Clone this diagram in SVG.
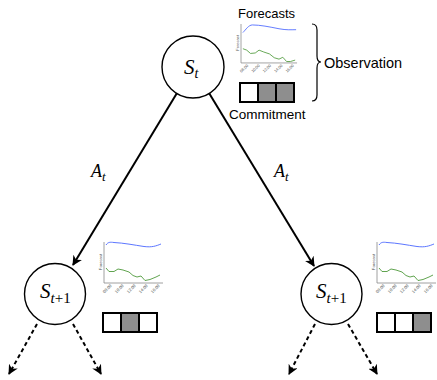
<svg xmlns="http://www.w3.org/2000/svg" width="437" height="380" viewBox="0 0 437 380">
<style>
.node{fill:#fff;stroke:#000;stroke-width:1.4}
.math{font-family:"Liberation Serif",serif;font-style:italic;fill:#000}
.up{font-style:normal}
.lbl{font-family:"Liberation Sans",Arial,sans-serif;fill:#000}
.edge{stroke:#000;stroke-width:2;fill:none}
.dash{stroke:#000;stroke-width:2;fill:none;stroke-dasharray:4 3}
.axis{stroke:#888;stroke-width:0.8;fill:none}
.tick{font-family:"Liberation Sans",Arial,sans-serif;font-size:4.2px;fill:#555}
.blue{stroke:#4a66ff;stroke-width:0.9;fill:none}
.green{stroke:#4f9a3c;stroke-width:0.9;fill:none}
.cell{stroke:#000;stroke-width:2;fill:#fff}
.on{fill:#8e8e8e}
</style>
<defs>
<marker id="ah" viewBox="0 0 10 10" refX="9" refY="5" markerWidth="5" markerHeight="5" orient="auto" markerUnits="strokeWidth">
<path d="M0,0 L10,5 L0,10 L3,5 z" fill="#000"/>
</marker>
<g id="axes">
<path class="axis" d="M0,0 V41 H59"/>
<text class="tick" transform="translate(-2,20) rotate(-90)" text-anchor="middle">Forecast</text>
<text class="tick" transform="translate(8,44) rotate(-45)" text-anchor="end">08:00</text>
<text class="tick" transform="translate(20,44) rotate(-45)" text-anchor="end">10:00</text>
<text class="tick" transform="translate(32,44) rotate(-45)" text-anchor="end">12:00</text>
<text class="tick" transform="translate(44,44) rotate(-45)" text-anchor="end">14:00</text>
<text class="tick" transform="translate(56,44) rotate(-45)" text-anchor="end">16:00</text>
</g>
<g id="lowchart">
<use href="#axes"/>
<path class="blue" d="M2,3 C4,0 6,0 10,0.5 C20,1 30,3 40,4.5 C48,5.5 52,4 57,2"/>
<path class="green" d="M2,26 L5,29.5 L10,29.5 L14,27 L19,28 L25,30 L29,33.5 L33,35 L37,34 L41,38.5 L46,37.5 L52,35 L56,33"/>
</g>
</defs>

<g id="connectors">
<line class="edge" x1="177" y1="93" x2="73" y2="265" marker-end="url(#ah)"/>
<line class="edge" x1="209" y1="93" x2="314" y2="266" marker-end="url(#ah)"/>
<line class="dash" x1="37" y1="324" x2="9" y2="374" marker-end="url(#ah)"/>
<line class="dash" x1="73" y1="324" x2="101" y2="374" marker-end="url(#ah)"/>
<line class="dash" x1="315" y1="324" x2="289" y2="374" marker-end="url(#ah)"/>
<line class="dash" x1="348" y1="324" x2="377" y2="374" marker-end="url(#ah)"/>
<text class="math" x="91" y="177" font-size="18">A<tspan font-size="13" dy="4">t</tspan></text>
<text class="math" x="274" y="177" font-size="18">A<tspan font-size="13" dy="4">t</tspan></text>
</g>

<g id="node-st">
<circle class="node" cx="193" cy="67" r="31"/>
<text class="math" x="184" y="74" font-size="21">S<tspan font-size="14" dy="4">t</tspan></text>
</g>

<g id="node-st1-left">
<circle class="node" cx="55" cy="294" r="30.5"/>
<text class="math" x="40" y="298" font-size="21">S<tspan font-size="15" dy="5">t</tspan><tspan class="up" font-size="15">+1</tspan></text>
</g>

<g id="node-st1-right">
<circle class="node" cx="331.5" cy="294" r="30.5"/>
<text class="math" x="316" y="298" font-size="21">S<tspan font-size="15" dy="5">t</tspan><tspan class="up" font-size="15">+1</tspan></text>
</g>

<g id="observation">
<text class="lbl" x="238" y="18" font-size="13">Forecasts</text>
<g transform="translate(241,24) scale(0.95)">
<use href="#axes"/>
<path class="blue" d="M2,9 C5,6 8,1 12,1 C20,1 30,3 40,5 C48,6.5 52,6 58,6"/>
<path class="green" d="M2,26 L6,27.5 L10,31 L15,30.5 L19,27.5 L24,29.5 L30,31.5 L35,35.5 L40,37 L44,35 L48,39.5 L52,39.5 L57,38"/>
</g>
<rect class="cell" x="240" y="83" width="18" height="19"/>
<rect class="cell on" x="258" y="83" width="18" height="19"/>
<rect class="cell on" x="276" y="83" width="18" height="19"/>
<text class="lbl" x="229" y="119" font-size="13.5">Commitment</text>
<path d="M312,24 Q317,24 317,30 V56 Q317,62 321,62 Q317,62 317,68 V95 Q317,101 312,101" fill="none" stroke="#000" stroke-width="1.2"/>
<text class="lbl" x="324" y="68" font-size="14.5">Observation</text>
</g>

<g id="obs-left">
<use href="#lowchart" transform="translate(104,242)"/>
<rect class="cell" x="103" y="313" width="18" height="19"/>
<rect class="cell on" x="121" y="313" width="18" height="19"/>
<rect class="cell" x="139" y="313" width="18" height="19"/>
</g>

<g id="obs-right">
<use href="#lowchart" transform="translate(377,242)"/>
<rect class="cell" x="377" y="313" width="18" height="19"/>
<rect class="cell" x="395" y="313" width="18" height="19"/>
<rect class="cell on" x="413" y="313" width="18" height="19"/>
</g>
</svg>
